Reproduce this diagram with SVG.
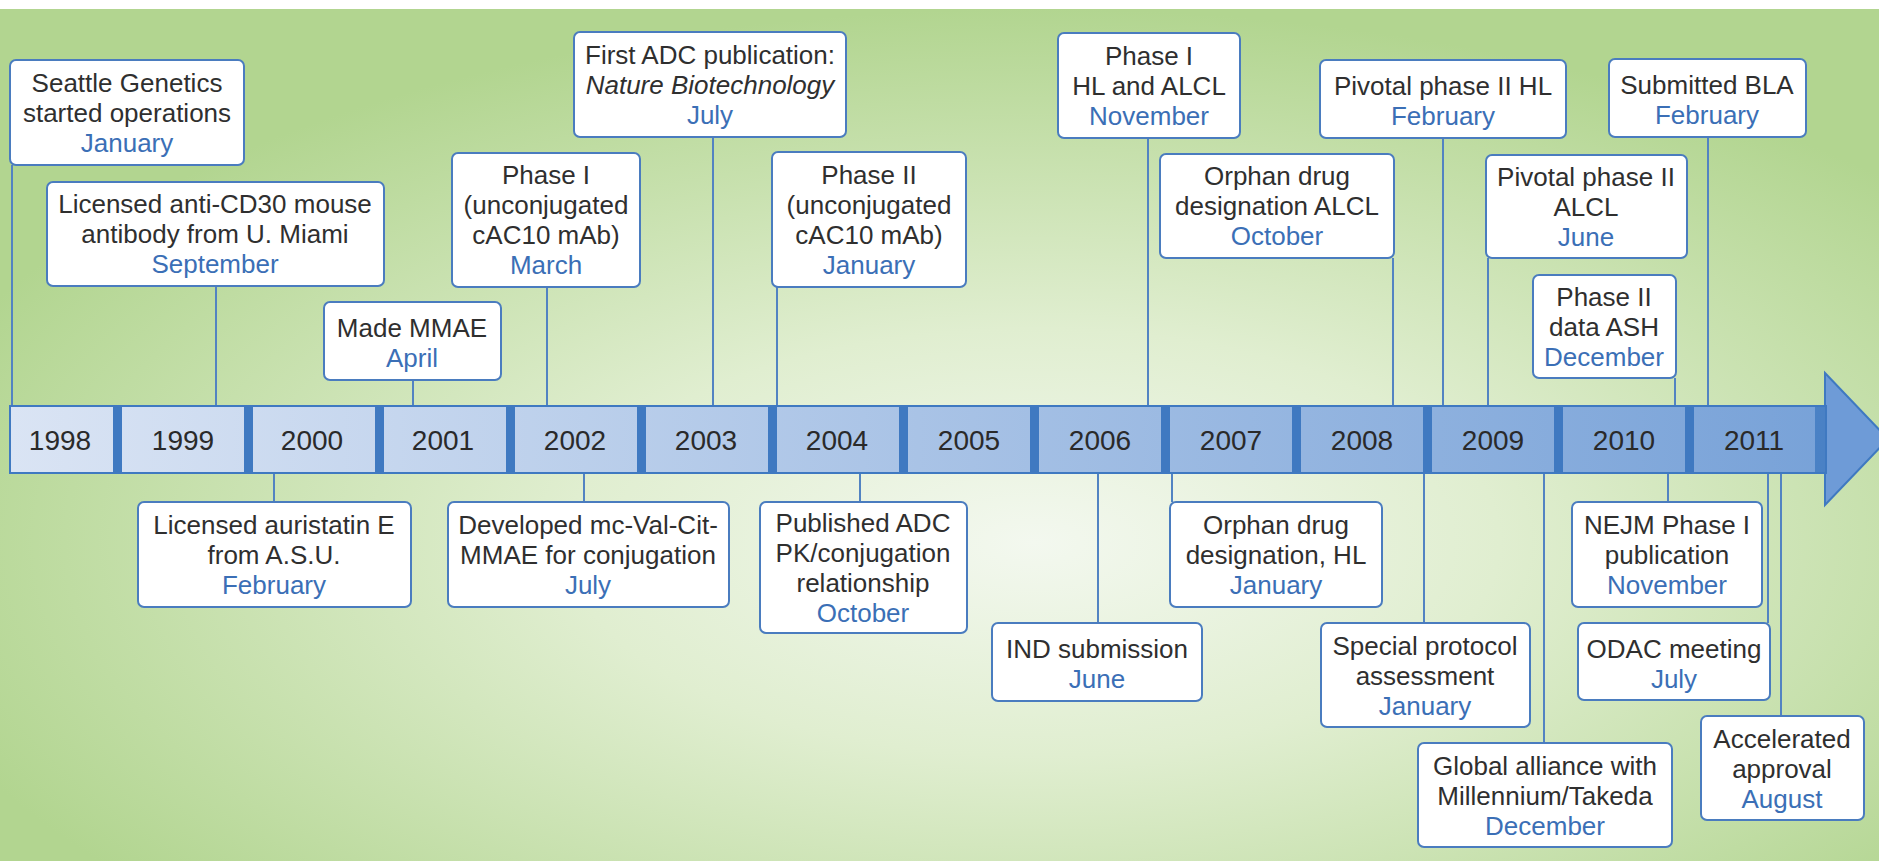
<svg xmlns="http://www.w3.org/2000/svg" width="1879" height="861" viewBox="0 0 1879 861">
<defs>
<radialGradient id="bg" cx="0.55" cy="0.63" r="0.62">
<stop offset="0" stop-color="#f3f8ef"/>
<stop offset="0.4" stop-color="#e0eed0"/>
<stop offset="1" stop-color="#b2d590"/>
</radialGradient>
<linearGradient id="barg" x1="0" y1="0" x2="1" y2="0">
<stop offset="0" stop-color="#dae4f4"/>
<stop offset="1" stop-color="#78a2d8"/>
</linearGradient>
<style>
.box{fill:#ffffff;stroke:#4a7cbf;stroke-width:2}
.t{font-family:"Liberation Sans",Arial,sans-serif;font-size:26px;fill:#2f2f2f;text-anchor:middle}
.m{fill:#3b6fb6}
.i{font-style:italic}
.yr{font-family:"Liberation Sans",Arial,sans-serif;font-size:28px;fill:#2a2a2a;text-anchor:middle}
.sep{fill:#3f79c1}
.c{stroke:#5283c2;stroke-width:2;fill:none}
</style>
</defs>
<rect x="0" y="0" width="1879" height="861" fill="url(#bg)"/>
<rect x="0" y="0" width="1879" height="9" fill="#ffffff"/>

<g id="connectors">
<line class="c" x1="12" y1="165" x2="12" y2="406"/>
<line class="c" x1="216" y1="286" x2="216" y2="406"/>
<line class="c" x1="413" y1="380" x2="413" y2="406"/>
<line class="c" x1="547" y1="287" x2="547" y2="406"/>
<line class="c" x1="713" y1="137" x2="713" y2="406"/>
<line class="c" x1="777" y1="287" x2="777" y2="406"/>
<line class="c" x1="1148" y1="138" x2="1148" y2="406"/>
<line class="c" x1="1393" y1="258" x2="1393" y2="406"/>
<line class="c" x1="1443" y1="138" x2="1443" y2="406"/>
<line class="c" x1="1708" y1="137" x2="1708" y2="406"/>
<line class="c" x1="1488" y1="258" x2="1488" y2="406"/>
<line class="c" x1="1675" y1="378" x2="1675" y2="406"/>
<line class="c" x1="274" y1="473" x2="274" y2="502"/>
<line class="c" x1="584" y1="473" x2="584" y2="502"/>
<line class="c" x1="860" y1="473" x2="860" y2="502"/>
<line class="c" x1="1098" y1="473" x2="1098" y2="623"/>
<line class="c" x1="1172" y1="473" x2="1172" y2="502"/>
<line class="c" x1="1424" y1="473" x2="1424" y2="623"/>
<line class="c" x1="1544" y1="473" x2="1544" y2="743"/>
<line class="c" x1="1668" y1="473" x2="1668" y2="502"/>
<line class="c" x1="1768" y1="473" x2="1768" y2="623"/>
<line class="c" x1="1781" y1="473" x2="1781" y2="716"/>
</g>

<g id="timeline">
<polygon points="1825,373 1888,439 1825,505" fill="#6e9bd7" stroke="#3f79c1" stroke-width="2"/>
<rect x="10" y="406" width="1816" height="67" fill="url(#barg)" stroke="#3f79c1" stroke-width="2"/>
<rect class="sep" x="113" y="406" width="9" height="67"/>
<rect class="sep" x="244" y="406" width="9" height="67"/>
<rect class="sep" x="375" y="406" width="9" height="67"/>
<rect class="sep" x="506" y="406" width="9" height="67"/>
<rect class="sep" x="637" y="406" width="9" height="67"/>
<rect class="sep" x="768" y="406" width="9" height="67"/>
<rect class="sep" x="899" y="406" width="9" height="67"/>
<rect class="sep" x="1030" y="406" width="9" height="67"/>
<rect class="sep" x="1161" y="406" width="9" height="67"/>
<rect class="sep" x="1292" y="406" width="9" height="67"/>
<rect class="sep" x="1423" y="406" width="9" height="67"/>
<rect class="sep" x="1554" y="406" width="9" height="67"/>
<rect class="sep" x="1685" y="406" width="9" height="67"/>
<rect class="sep" x="1815" y="406" width="10" height="67" opacity="0.8"/>
<text class="yr" x="60" y="450">1998</text>
<text class="yr" x="183" y="450">1999</text>
<text class="yr" x="312" y="450">2000</text>
<text class="yr" x="443" y="450">2001</text>
<text class="yr" x="575" y="450">2002</text>
<text class="yr" x="706" y="450">2003</text>
<text class="yr" x="837" y="450">2004</text>
<text class="yr" x="969" y="450">2005</text>
<text class="yr" x="1100" y="450">2006</text>
<text class="yr" x="1231" y="450">2007</text>
<text class="yr" x="1362" y="450">2008</text>
<text class="yr" x="1493" y="450">2009</text>
<text class="yr" x="1624" y="450">2010</text>
<text class="yr" x="1754" y="450">2011</text>
</g>

<g id="n1"><rect class="box" x="10" y="60" width="234" height="105" rx="6"/>
<text class="t" x="127" y="92">Seattle Genetics</text><text class="t" x="127" y="122">started operations</text><text class="t m" x="127" y="152">January</text></g>
<g id="n2"><rect class="box" x="47" y="182" width="337" height="104" rx="6"/>
<text class="t" x="215" y="213">Licensed anti-CD30 mouse</text><text class="t" x="215" y="243">antibody from U. Miami</text><text class="t m" x="215" y="273">September</text></g>
<g id="n3"><rect class="box" x="324" y="302" width="177" height="78" rx="6"/>
<text class="t" x="412" y="337">Made MMAE</text><text class="t m" x="412" y="367">April</text></g>
<g id="n4"><rect class="box" x="452" y="153" width="188" height="134" rx="6"/>
<text class="t" x="546" y="184">Phase I</text><text class="t" x="546" y="214">(unconjugated</text><text class="t" x="546" y="244">cAC10 mAb)</text><text class="t m" x="546" y="274">March</text></g>
<g id="n5"><rect class="box" x="574" y="32" width="272" height="105" rx="6"/>
<text class="t" x="710" y="64">First ADC publication:</text><text class="t i" x="710" y="94">Nature Biotechnology</text><text class="t m" x="710" y="124">July</text></g>
<g id="n6"><rect class="box" x="772" y="152" width="194" height="135" rx="6"/>
<text class="t" x="869" y="184">Phase II</text><text class="t" x="869" y="214">(unconjugated</text><text class="t" x="869" y="244">cAC10 mAb)</text><text class="t m" x="869" y="274">January</text></g>
<g id="n7"><rect class="box" x="1058" y="33" width="182" height="105" rx="6"/>
<text class="t" x="1149" y="65">Phase I</text><text class="t" x="1149" y="95">HL and ALCL</text><text class="t m" x="1149" y="125">November</text></g>
<g id="n8"><rect class="box" x="1160" y="154" width="234" height="104" rx="6"/>
<text class="t" x="1277" y="185">Orphan drug</text><text class="t" x="1277" y="215">designation ALCL</text><text class="t m" x="1277" y="245">October</text></g>
<g id="n9"><rect class="box" x="1320" y="60" width="246" height="78" rx="6"/>
<text class="t" x="1443" y="95">Pivotal phase II HL</text><text class="t m" x="1443" y="125">February</text></g>
<g id="n10"><rect class="box" x="1609" y="59" width="197" height="78" rx="6"/>
<text class="t" x="1707" y="94">Submitted BLA</text><text class="t m" x="1707" y="124">February</text></g>
<g id="n11"><rect class="box" x="1486" y="155" width="201" height="103" rx="6"/>
<text class="t" x="1586" y="186">Pivotal phase II</text><text class="t" x="1586" y="216">ALCL</text><text class="t m" x="1586" y="246">June</text></g>
<g id="n12"><rect class="box" x="1533" y="275" width="143" height="103" rx="6"/>
<text class="t" x="1604" y="306">Phase II</text><text class="t" x="1604" y="336">data ASH</text><text class="t m" x="1604" y="366">December</text></g>

<g id="n13"><rect class="box" x="138" y="502" width="273" height="105" rx="6"/>
<text class="t" x="274" y="534">Licensed auristatin E</text><text class="t" x="274" y="564">from A.S.U.</text><text class="t m" x="274" y="594">February</text></g>
<g id="n14"><rect class="box" x="448" y="502" width="281" height="105" rx="6"/>
<text class="t" x="588" y="534">Developed mc-Val-Cit-</text><text class="t" x="588" y="564">MMAE for conjugation</text><text class="t m" x="588" y="594">July</text></g>
<g id="n15"><rect class="box" x="760" y="502" width="207" height="131" rx="6"/>
<text class="t" x="863" y="532">Published ADC</text><text class="t" x="863" y="562">PK/conjugation</text><text class="t" x="863" y="592">relationship</text><text class="t m" x="863" y="622">October</text></g>
<g id="n16"><rect class="box" x="992" y="623" width="210" height="78" rx="6"/>
<text class="t" x="1097" y="658">IND submission</text><text class="t m" x="1097" y="688">June</text></g>
<g id="n17"><rect class="box" x="1170" y="502" width="212" height="105" rx="6"/>
<text class="t" x="1276" y="534">Orphan drug</text><text class="t" x="1276" y="564">designation, HL</text><text class="t m" x="1276" y="594">January</text></g>
<g id="n18"><rect class="box" x="1321" y="623" width="209" height="104" rx="6"/>
<text class="t" x="1425" y="655">Special protocol</text><text class="t" x="1425" y="685">assessment</text><text class="t m" x="1425" y="715">January</text></g>
<g id="n19"><rect class="box" x="1418" y="743" width="254" height="104" rx="6"/>
<text class="t" x="1545" y="775">Global alliance with</text><text class="t" x="1545" y="805">Millennium/Takeda</text><text class="t m" x="1545" y="835">December</text></g>
<g id="n20"><rect class="box" x="1572" y="502" width="190" height="105" rx="6"/>
<text class="t" x="1667" y="534">NEJM Phase I</text><text class="t" x="1667" y="564">publication</text><text class="t m" x="1667" y="594">November</text></g>
<g id="n21"><rect class="box" x="1578" y="623" width="192" height="77" rx="6"/>
<text class="t" x="1674" y="658">ODAC meeting</text><text class="t m" x="1674" y="688">July</text></g>
<g id="n22"><rect class="box" x="1701" y="716" width="163" height="104" rx="6"/>
<text class="t" x="1782" y="748">Accelerated</text><text class="t" x="1782" y="778">approval</text><text class="t m" x="1782" y="808">August</text></g>
</svg>
